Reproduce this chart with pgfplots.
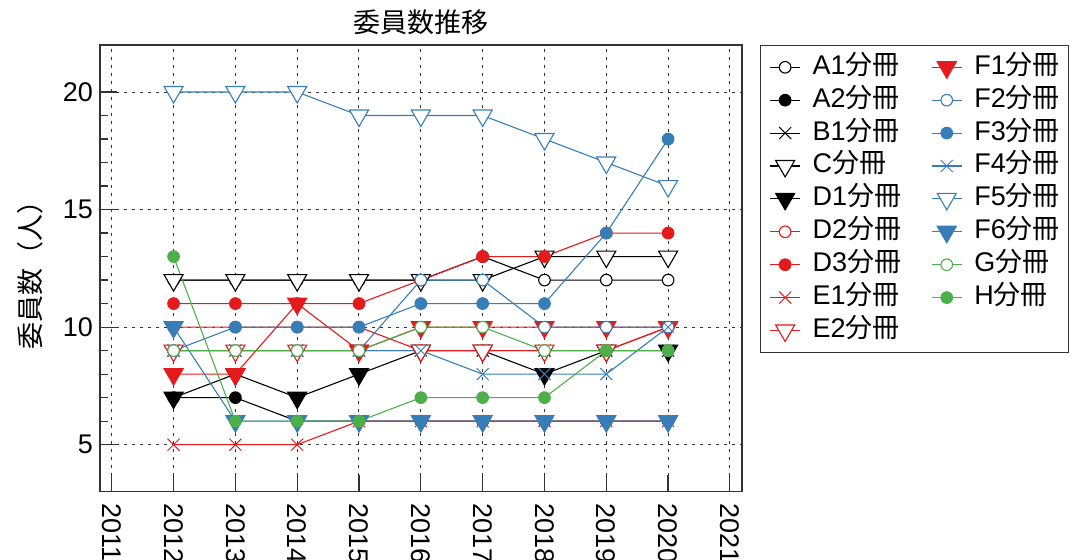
\documentclass[border=0pt]{standalone}
\usepackage{pgfplots}
\usepackage{pgfplotstable}
\pgfplotsset{compat=1.18}
\usepackage{fontspec}
\setmainfont{Liberation Sans}
\newfontfamily\cjk{Noto Sans CJK JP}

\definecolor{sred}{HTML}{E41A1C}
\definecolor{sblue}{HTML}{377EB8}
\definecolor{sgreen}{HTML}{4DAF4A}

% members per section, 2012--2020
\pgfplotstableread{
year A1 A2 B1 C  D1 D2 D3 E1 E2 F1 F2 F3 F4 F5 F6 G  H
2012 12 7  9  12 7  10 11 5  9  8  9  9  9  20 10 9  13
2013 12 7  9  12 8  10 11 5  9  8  9  10 9  20 6  9  6
2014 12 6  9  12 7  10 11 5  9  11 9  10 9  20 6  9  6
2015 12 6  9  12 8  10 11 6  9  9  9  10 9  19 6  9  6
2016 12 6  9  12 9  9  12 6  9  10 12 11 9  19 6  10 7
2017 13 6  9  12 9  9  13 6  9  10 12 11 8  19 6  10 7
2018 12 6  9  13 8  9  13 6  9  10 10 11 8  18 6  9  7
2019 12 6  9  13 9  9  14 6  9  10 10 14 8  17 6  9  9
2020 12 6  9  13 9  10 14 6  10 10 10 18 10 16 6  9  9
}\members

\newcommand{\bs}{{\cjk 分冊}}
\newcommand{\fnt}{\fontsize{13.5}{16}\selectfont}

\pgfplotsset{
  base/.style={line width=0.55pt, mark options={solid, line width=0.5pt}},
  ocirc/.style={base, color=#1, mark=*, mark size=2.9pt, mark options={fill=white, draw=#1}},
  fcirc/.style={base, color=#1, mark=*, mark size=2.9pt, mark options={fill=#1, draw=#1}},
  xcross/.style={base, color=#1, mark=x, mark size=4.25pt},
  otri/.style={base, color=#1, mark=triangle*, mark size=5.5pt, mark options={rotate=180, fill=white, draw=#1}},
  ftri/.style={base, color=#1, mark=triangle*, mark size=5.5pt, mark options={rotate=180, fill=#1, draw=#1}},
}

\begin{document}
\begin{tikzpicture}[font=\fnt]
\path[use as bounding box] (0,0) rectangle (536pt,280pt);
\begin{axis}[
  at={(50pt,34.15pt)}, anchor=south west,
  scale only axis, width=320.85pt, height=223.35pt,
  xmin=2010.81, xmax=2021.19, ymin=3, ymax=22,
  xtick={2011,...,2021}, minor x tick num=1,
  ytick={5,10,15,20}, minor y tick num=4,
  tick align=inside, tick pos=left,
  major tick length=8.5pt, minor tick length=4.25pt,
  tick style={black!80, line width=0.6pt},
  axis line style={black!80, line width=0.8pt},
  grid=major,
  major grid style={black!80, line width=0.5pt, dash pattern=on 1.5pt off 2.5pt},
  /pgf/number format/assume math mode=true,
  tick label style={font=\fnt},
  x tick label style={/pgf/number format/1000 sep={}, yshift=-5.5pt, rotate=-90, anchor=west, inner sep=0pt},
  title={{\cjk 委員数推移}},
  every axis title shift=0pt,
  title style={font=\fnt, at={(0.5,1)}, anchor=center, yshift=11.5pt},
  ylabel={{\cjk 委員数（人）}},
  ylabel style={font=\fnt, at={(axis description cs:-0.109,0.5)}, anchor=center},
  legend image code/.code={\draw[mark repeat=2, mark phase=2] plot coordinates {(0pt,0pt) (7.5pt,0pt) (15pt,0pt)};},
  legend cell align=left,
  legend columns=9, transpose legend,
  legend style={at={(1.0285,1)}, anchor=north west, font=\fnt,
    draw=black!80, line width=0.6pt, inner xsep=4.5pt, inner ysep=4.35pt,
    row sep=3.45pt,
    nodes={inner sep=0pt, text height=10pt, text depth=3pt, anchor=west},
    /tikz/every odd column/.append style={column sep=6pt},
    /tikz/every even column/.append style={column sep=15pt}},
]
\addplot[ocirc=black] table[x=year, y=A1] {\members}; \addlegendentry{A1\bs}
\addplot[fcirc=black] table[x=year, y=A2] {\members}; \addlegendentry{A2\bs}
\addplot[xcross=black] table[x=year, y=B1] {\members}; \addlegendentry{B1\bs}
\addplot[otri=black] table[x=year, y=C] {\members}; \addlegendentry{C\bs}
\addplot[ftri=black] table[x=year, y=D1] {\members}; \addlegendentry{D1\bs}
\addplot[ocirc=sred] table[x=year, y=D2] {\members}; \addlegendentry{D2\bs}
\addplot[fcirc=sred] table[x=year, y=D3] {\members}; \addlegendentry{D3\bs}
\addplot[xcross=sred] table[x=year, y=E1] {\members}; \addlegendentry{E1\bs}
\addplot[otri=sred] table[x=year, y=E2] {\members}; \addlegendentry{E2\bs}
\addplot[ftri=sred] table[x=year, y=F1] {\members}; \addlegendentry{F1\bs}
\addplot[ocirc=sblue] table[x=year, y=F2] {\members}; \addlegendentry{F2\bs}
\addplot[fcirc=sblue] table[x=year, y=F3] {\members}; \addlegendentry{F3\bs}
\addplot[xcross=sblue] table[x=year, y=F4] {\members}; \addlegendentry{F4\bs}
\addplot[otri=sblue] table[x=year, y=F5] {\members}; \addlegendentry{F5\bs}
\addplot[ftri=sblue] table[x=year, y=F6] {\members}; \addlegendentry{F6\bs}
\addplot[ocirc=sgreen] table[x=year, y=G] {\members}; \addlegendentry{G\bs}
\addplot[fcirc=sgreen] table[x=year, y=H] {\members}; \addlegendentry{H\bs}
\end{axis}
\end{tikzpicture}
\end{document}
